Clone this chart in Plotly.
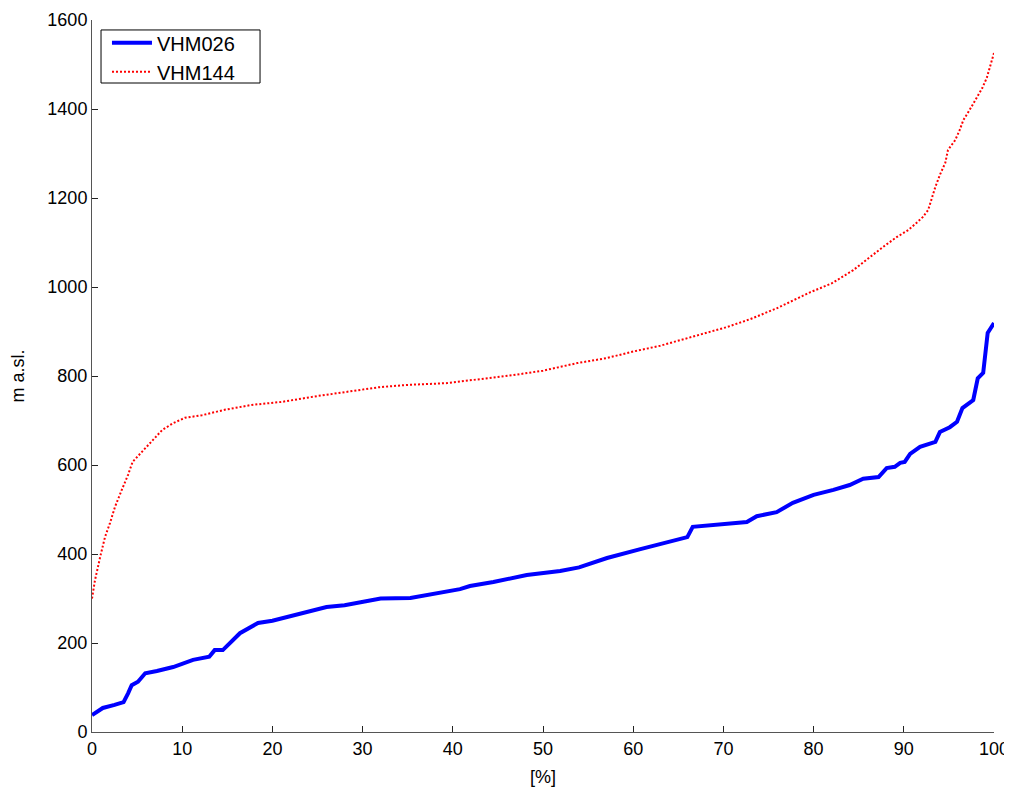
import plotly.graph_objects as go

blue_x = [0, 0.15, 1.2, 2.5, 3.5, 4.0, 4.4, 5.1, 5.9, 7.2, 9, 11.2, 13, 13.6, 14.5, 16.4, 18.4, 20,
          23.1, 26, 28, 30.8, 32, 35.3, 38.2, 40.8, 41.9, 44.5, 48.2, 49.7, 51.9, 54, 57.1, 60.8,
          63.3, 66, 66.6, 69.3, 72.6, 73.7, 75.9, 77.7, 80, 82.2, 84, 85.5, 87.2, 88.1, 89, 89.6,
          90.1, 90.7, 91.8, 93.5, 94, 95.1, 95.9, 96.5, 97.7, 98.2, 98.8, 99.3, 100]
blue_y = [38, 40, 54, 61, 67, 87, 105, 113, 132, 137, 146, 162, 169, 184, 184, 222, 245, 250,
          267, 281, 285, 297, 300, 301, 312, 321, 328, 337, 353, 357, 362, 370, 391, 411,
          425, 438, 461, 465, 472, 485, 494, 515, 533, 544, 555, 569, 573, 593, 596, 605,
          607, 625, 641, 652, 674, 685, 697, 728, 746, 795, 807, 897, 919]

red_x = [0, 0.33, 0.9, 1.44, 2.0, 2.55, 3.3, 4.0, 4.5, 5.5, 6.7, 7.8, 9.0, 10.3, 12.2, 14.7, 17.7,
         21.1, 25, 28, 31.9, 35, 39.4, 43, 46.7, 50, 53.8, 57, 60, 63, 66.6, 70.4, 73, 75.9, 79.6,
         82, 84.4, 85.5, 86.5, 87.7, 89.2, 90.5, 91.4, 92.1, 92.7, 93.1, 93.5, 94, 94.6, 94.9,
         95.7, 96.2, 96.6, 97.3, 98.1, 98.7, 99.2, 99.6, 100]
red_y = [300, 341, 393, 438, 470, 506, 544, 578, 607, 629, 656, 679, 694, 706, 712, 724, 735,
         742, 755, 763, 775, 780, 784, 793, 802, 812, 829, 840, 855, 868, 888, 910, 928, 952, 988,
         1008, 1038, 1056, 1072, 1090, 1112, 1128, 1144, 1157, 1173, 1200, 1225, 1252, 1279, 1308,
         1330, 1353, 1375, 1398, 1425, 1447, 1470, 1499, 1526]

x_ticks = [0, 10, 20, 30, 40, 50, 60, 70, 80, 90, 100]
y_ticks = [0, 200, 400, 600, 800, 1000, 1200, 1400, 1600]

FONT = "Liberation Sans, Arial, sans-serif"

fig = go.Figure()
fig.add_trace(go.Scatter(x=blue_x, y=blue_y, mode="lines", name="VHM026",
                         line=dict(color="#0000ff", width=4)))
fig.add_trace(go.Scatter(x=red_x, y=red_y, mode="lines", name="VHM144",
                         line=dict(color="#ff0000", width=2, dash="2px,2px")))

axis_common = dict(showgrid=False, zeroline=False, showline=True, linecolor="#555555",
                   linewidth=1, ticks="inside", ticklen=6, tickcolor="#222222",
                   tickfont=dict(family=FONT, size=18, color="black"), mirror=False,
                   automargin=False)

# legend frame
fig.add_shape(type="rect", xref="paper", yref="paper",
              x0=0.0100, x1=0.1863, y0=0.9115, y1=0.986,
              line=dict(color="black", width=1), fillcolor="white", layer="above")

fig.update_layout(
    width=1012, height=789,
    margin=dict(l=84, r=26, t=12, b=65),
    paper_bgcolor="white", plot_bgcolor="white",
    font=dict(family=FONT, size=18, color="black"),
    showlegend=True,
    legend=dict(x=0.0166, y=0.9955, xanchor="left", yanchor="top",
                borderwidth=0, bgcolor="rgba(0,0,0,0)",
                font=dict(family=FONT, size=20, color="black"),
                tracegroupgap=0, itemwidth=40),
    xaxis=dict(range=[0, 100], tickvals=x_ticks, title=dict(text="[%]", standoff=12,
               font=dict(family=FONT, size=18)), **axis_common),
    yaxis=dict(range=[0, 1600], tickvals=y_ticks, title=dict(text="m a.sl.", standoff=19,
               font=dict(family=FONT, size=18)), **axis_common),
)

fig.write_html("out.html")
